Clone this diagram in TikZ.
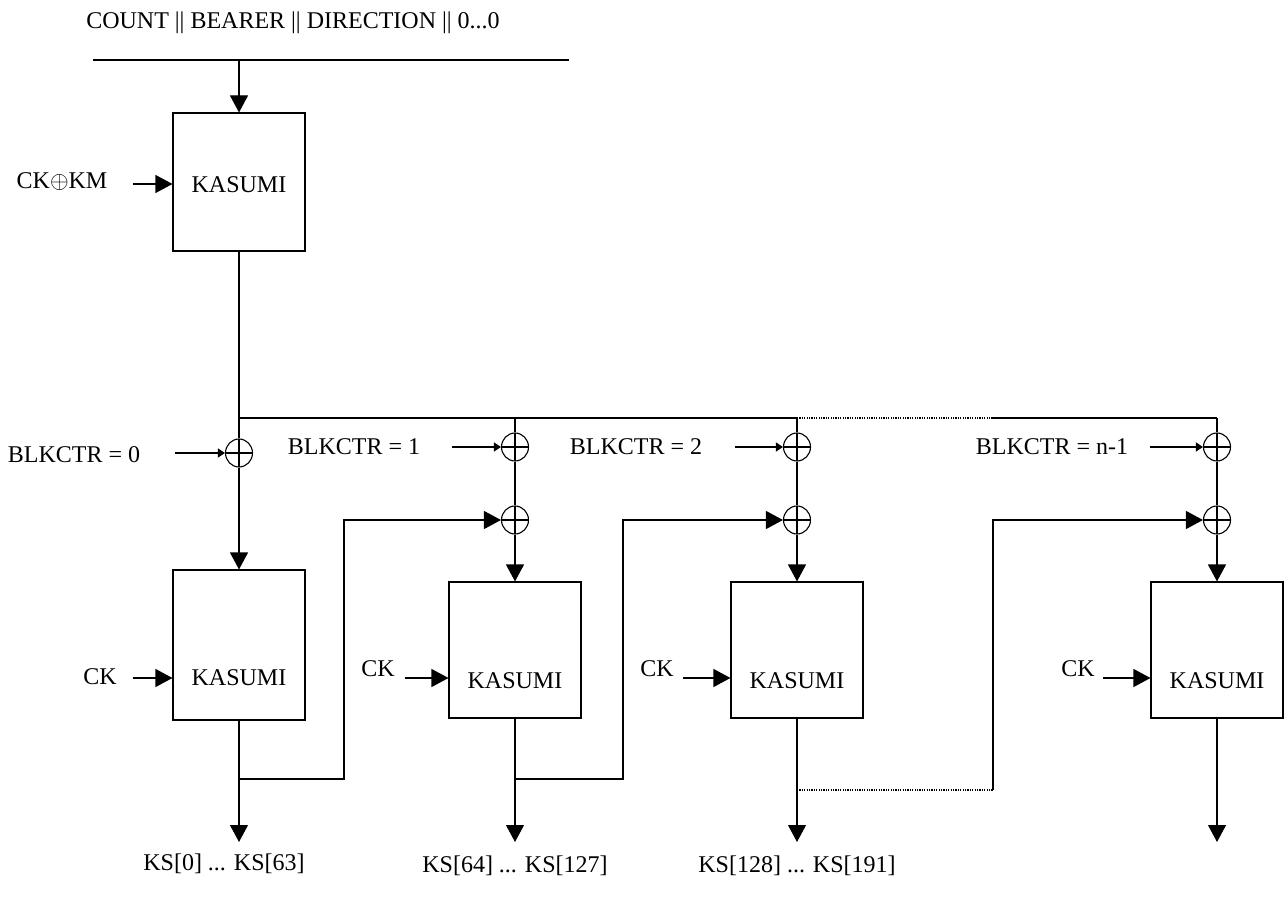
\documentclass[tikz,border=0pt]{standalone}
\usepackage{fontspec}
\setmainfont{Liberation Serif}
\usetikzlibrary{arrows.meta, positioning, calc, shapes.geometric}
\tikzset{
  kbox/.style={draw, minimum width=66pt, inner sep=0pt},
  xorop/.style={ellipse, draw, minimum width=13.5pt, minimum height=14pt,
        inner sep=0pt,
        path picture={\draw (path picture bounding box.north) -- (path picture bounding box.south)
                            (path picture bounding box.west) -- (path picture bounding box.east);}},
  lbl/.style={anchor=base, inner sep=0pt},
  bigarrow/.style={-{Triangle[length=8.5pt, width=9pt]}},
  thinarrow/.style={-{Triangle[length=3.5pt, width=4.5pt]}},
  finedots/.style={dash pattern=on 0.6pt off 0.6pt},
}
\begin{document}
\begin{tikzpicture}[x=0.5pt, y=-0.5pt, line width=0.55pt,
      font=\fontsize{12}{14}\selectfont]
    \useasboundingbox (0,0) rectangle (1285,898);
    % initial KASUMI block
    \node[lbl] (title) at (293,29) {COUNT || BEARER || DIRECTION || 0...0};
    \coordinate (inl) at (93,60);
    \coordinate (inr) at (569,60);
    \draw (inl) -- (inr);
    \node[kbox, minimum height=69pt] (k0) at (239,182) {};
    \node[lbl] (k0t) at (239,193) {KASUMI};
    \draw[bigarrow] (inl -| k0) -- (k0);
    \node[lbl] (ckkm) at (62,189) {CK$\oplus$KM};
    \coordinate (ckkmin) at (133,184);
    \draw[bigarrow] (ckkmin) -- (ckkmin -| k0.west);
    % keystream blocks
    \node[xorop] (xa1) at (239,453) {};
    \node[kbox, minimum height=75pt] (k1) at (239,645) {};
    \foreach \i/\x in {2/515, 3/797, 4/1217} {
      \coordinate (tap\i) at (\x,418);
      \node[xorop] (xa\i) at (\x,447) {};
      \node[xorop] (xb\i) at (\x,520) {};
      \node[kbox, minimum height=68pt] (k\i) at (\x,650) {};
      \draw (tap\i) -- (xa\i);
      \draw (xa\i) -- (xb\i);
      \draw[bigarrow] (xb\i) -- (k\i);
    }
    \foreach \i/\x/\y in {1/239/685, 2/515/688, 3/797/688, 4/1217/688}
      \node[lbl] (kt\i) at (\x,\y) {KASUMI};
    \foreach \i/\lx/\ly/\ax in {1/100/684/133, 2/378/676/405, 3/657/676/683, 4/1078/676/1103} {
      \node[lbl] (ck\i) at (\lx,\ly) {CK};
      \coordinate (ckin\i) at (\ax,678);
      \draw[bigarrow] (ckin\i) -- (ckin\i -| k\i.west);
    }
    \foreach \i/\lx/\ly/\ax/\ay/\n in {1/74/463/175/453/0, 2/354/455/452/447/1,
        3/636/455/735/447/2, 4/1052/455/1150/447/n-1} {
      \node[lbl] (ctr\i) at (\lx,\ly) {BLKCTR = \n};
      \coordinate (ctrin\i) at (\ax,\ay);
      \draw[thinarrow] (ctrin\i) -- (xa\i);
    }
    % counter bus
    \coordinate (bus1) at (239,418);
    \coordinate (busgap) at (993,418);
    \draw (k0) -- (bus1);
    \draw (bus1) -- (xa1);
    \draw[bigarrow] (xa1) -- (k1);
    \draw (bus1) -- (tap2) -- (tap3);
    \draw[finedots] (tap3) -- (busgap);
    \draw (busgap) -- (tap4);
    % feedback of previous keystream block
    \coordinate (fb1) at (239,779);
    \coordinate (up1) at (344,520);
    \draw[bigarrow] (fb1) -| (up1) -- (xb2);
    \coordinate (fb2) at (515,779);
    \coordinate (up2) at (623,520);
    \draw[bigarrow] (fb2) -| (up2) -- (xb3);
    \coordinate (fb3) at (797,790);
    \coordinate (dn3) at (993,790);
    \coordinate (up3) at (993,520);
    \draw[finedots] (fb3) -- (dn3);
    \draw[bigarrow] (dn3) -- (up3) -- (xb4);
    % outputs
    \foreach \i/\x in {1/239, 2/515, 3/797, 4/1217} {
      \coordinate (out\i) at (\x,842);
      \draw[bigarrow] (k\i) -- (out\i);
    }
    \node[lbl] (ks1) at (224,870) {KS[0] ... KS[63]};
    \node[lbl] (ks2) at (515,872) {KS[64] ... KS[127]};
    \node[lbl] (ks3) at (797,872) {KS[128] ... KS[191]};
  \end{tikzpicture}
\end{document}
